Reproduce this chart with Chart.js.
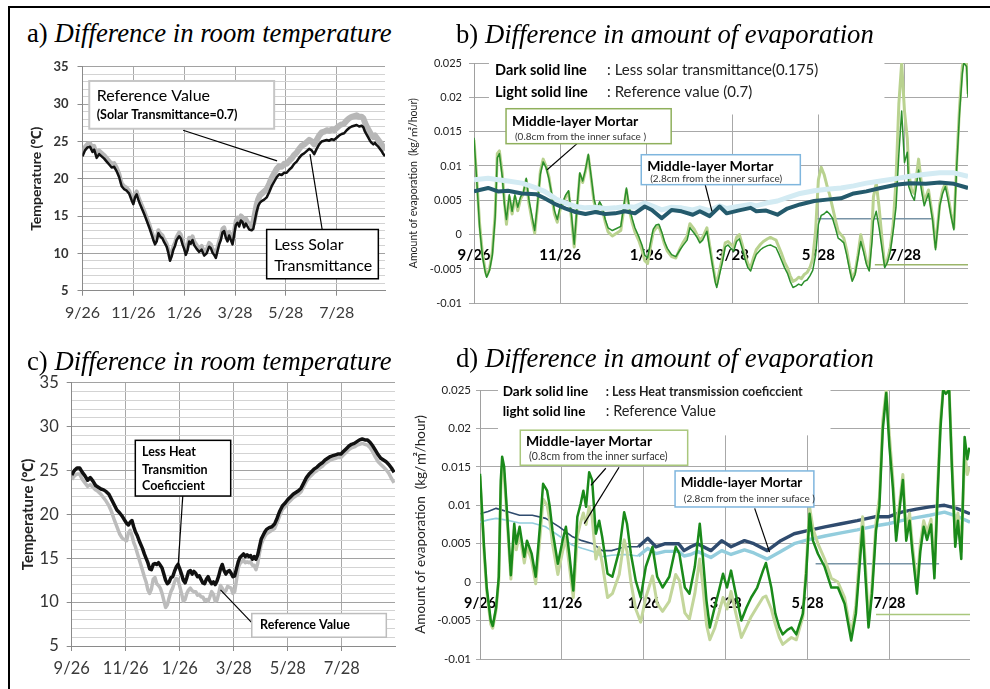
<!DOCTYPE html>
<html>
<head>
<meta charset="utf-8">
<script src="https://cdn.jsdelivr.net/npm/chart.js@4.4.1/dist/chart.umd.min.js"></script>
<style>
  html, body { margin: 0; padding: 0; background: #fff; }
  body { width: 990px; height: 689px; position: relative; overflow: hidden; }
  .frame { position: absolute; left: 8px; top: 6px; right: -4px; bottom: -4px; border-top: 2px solid #000; border-left: 2px solid #000; }
  canvas { position: absolute; }
  .ttl { position: absolute; font-family: 'Liberation Serif', 'Times New Roman', serif; font-size: 26.7px; line-height: 1; white-space: nowrap; color: #000; }
</style>
</head>
<body>
<div class="frame"></div>
<canvas id="ca"></canvas>
<canvas id="cb"></canvas>
<canvas id="cc"></canvas>
<canvas id="cd"></canvas>
<div class="ttl" style="left:27px;top:20px">a) <i>Difference in room temperature</i></div>
<div class="ttl" style="left:456px;top:21px">b) <i>Difference in amount of evaporation</i></div>
<div class="ttl" style="left:27px;top:348px">c) <i>Difference in room temperature</i></div>
<div class="ttl" style="left:456px;top:345px">d) <i>Difference in amount of evaporation</i></div>
<script>
// x axis: days since 9/26, labelled every 61 days
const tickDays = [0, 61, 122, 183, 244, 305];
const tickLabels = ['9/26', '11/26', '1/26', '3/28', '5/28', '7/28'];

// a) room temperature, solar transmittance case
const daysA = [0,3,6,9,12,14,17,20,23,26, 29,32,35,38,41,44,47,50,53,56,
  59,61,63,65,67,69,72,75,78,81, 83,85,87,89,91,93,96,98,101,103,
  105,107,109,111,113,116,118,120,122,124, 126,128,130,132,134,137,140,143,146,149,
  152,154,156,158,160,162,164,166,168,170, 172,174,176,178,180,182,184,186,188,190,
  192,194,196,198,200,203,205,207,209,211, 213,215,218,221,224,227,230,233,236,239,
  242,245,248,251,254,257,260,263,266,269, 272,275,278,281,284,287,290,293,296,299,
  302,305,308,311,314,317,320,323,326,329, 332,335,337,339,341,343,345,347,349,351,
  353,355,357,359,361,363];
const lessSolarA = [23.0,23.8,24.2,24.3,23.6,23.9,22.8,23.3,23.0,22.7, 22.3,21.9,21.5,21.6,21.0,20.2,19.0,18.6,18.4,18.0,
  17.1,16.6,17.5,17.9,17.2,16.6,15.8,15.0,14.1,13.2, 12.5,11.8,11.2,11.6,12.7,12.3,12.0,11.5,10.9,10.1,
  9.0,9.6,10.5,11.0,11.8,12.3,12.0,11.2,10.6,9.8, 10.4,11.6,11.3,11.8,11.1,10.6,10.2,10.5,9.7,10.0,
  10.9,10.7,10.1,9.8,9.4,10.3,11.2,11.8,12.8,13.0, 12.1,11.6,12.4,11.8,11.2,12.5,13.8,14.1,13.6,14.4,
  14.2,13.5,14.0,13.6,13.2,13.1,13.3,14.5,15.6,16.4, 16.8,17.0,17.2,17.5,18.2,19.0,19.6,20.2,20.6,20.5,
  20.8,20.8,21.2,21.5,22.0,22.3,22.8,23.2,23.4,23.7, 24.0,23.8,23.3,24.0,24.6,25.0,25.1,25.2,25.1,25.3,
  25.2,25.5,25.8,26.0,26.1,26.5,26.8,27.0,27.1,27.2, 27.0,27.1,26.9,26.3,25.9,25.5,25.1,24.8,24.6,24.8,
  24.5,24.3,24.0,23.7,23.3,23.0];
const refA = [23.5,24.3,24.7,24.8,24.1,24.4,23.3,23.8,23.5,23.2, 22.8,22.4,22.0,22.1,21.5,20.7,19.4,19.0,18.8,18.4,
  17.5,17.0,17.9,18.3,17.6,17.0,16.2,15.4,14.5,13.6, 12.9,12.2,11.6,12.0,13.1,12.7,12.4,11.9,11.3,10.5,
  9.4,10.0,10.9,11.4,12.2,12.8,12.5,11.7,11.1,10.3, 10.9,12.1,11.8,12.3,11.6,11.1,10.7,11.0,10.2,10.5,
  11.4,11.2,10.6,10.3,9.9,10.8,11.7,12.3,13.3,13.5, 12.6,12.1,12.9,12.3,11.8,13.1,14.4,14.8,14.3,15.1,
  14.9,14.2,14.7,14.3,13.9,13.8,14.1,15.3,16.5,17.3, 17.8,18.0,18.3,18.6,19.3,20.1,20.7,21.3,21.7,21.6,
  22.0,22.0,22.4,22.7,23.2,23.5,24.0,24.4,24.6,24.9, 25.2,25.0,24.6,25.2,25.8,26.2,26.3,26.5,26.4,26.6,
  26.5,26.8,27.1,27.3,27.4,27.8,28.1,28.3,28.4,28.5, 28.3,28.3,28.1,27.5,27.0,26.6,26.2,25.8,25.6,25.8,
  25.5,25.2,24.9,24.6,24.1,23.8];

// c) room temperature, heat transmission case
const daysC = [0,3,6,9,12,15,18,21,24,27, 30,33,36,39,42,45,48,51,54,57,
  60,62,64,66,68,70,72,74,77,80, 82,84,86,88,90,92,94,96,98,100,
  102,104,106,108,110,112,114,116,118,120, 122,124,126,128,130,132,134,136,138,140,
  142,144,146,148,150,152,154,156,158,160, 162,164,166,168,170,172,174,176,178,180,
  182,184,186,188,190,192,194,196,198,200, 202,204,206,208,210,212,214,216,218,220,
  223,226,229,232,235,238,241,244,247,250, 253,256,259,262,265,268,271,274,277,280,
  283,286,289,292,295,298,301,304,307,310, 313,316,319,322,325,328,331,334,337,340,
  343,346,349,352,355,358,361,364];
const lessHeatC = [24.5,25.0,25.3,25.3,24.8,24.4,23.9,24.2,23.8,23.3, 23.1,22.9,22.8,22.6,22.3,21.7,21.1,20.5,20.2,19.8,
  19.3,19.0,18.8,19.1,19.3,18.6,18.0,17.6,16.8,16.1, 15.5,15.0,14.5,13.8,13.7,14.3,14.4,14.3,14.5,14.2,
  13.9,13.2,12.5,12.1,12.3,12.8,12.9,13.5,14.0,14.3, 13.8,13.2,12.5,12.2,12.8,13.5,13.6,13.2,13.5,13.3,
  12.9,13.0,12.6,12.2,12.1,12.6,12.9,12.4,12.1,12.3, 12.0,12.4,13.0,13.8,14.3,13.6,13.2,13.5,13.6,13.3,
  12.9,13.0,13.8,14.6,15.1,15.3,15.5,15.2,15.4,15.2, 15.3,14.9,15.2,14.9,15.4,16.3,17.2,17.6,18.0,18.3,
  18.5,18.6,18.9,19.6,20.4,21.0,21.3,21.7,22.0,22.3, 22.5,22.7,23.0,23.6,24.2,24.6,24.9,25.2,25.4,25.7,
  25.9,26.2,26.4,26.6,26.7,26.8,26.9,26.9,27.2,27.5, 27.8,28.0,28.1,28.3,28.5,28.6,28.5,28.5,28.2,27.8,
  27.3,26.8,26.4,26.2,26.0,25.7,25.3,24.8];
const refC = [24.0,24.4,24.6,24.6,24.0,23.6,23.2,23.4,23.1,22.8, 22.6,22.3,21.9,21.5,21.0,20.3,19.4,18.6,17.8,17.3,
  17.1,17.0,17.9,18.2,17.6,16.8,16.3,15.6,14.6,13.6, 12.9,12.3,11.4,11.0,11.5,12.6,12.8,12.1,11.9,11.6,
  11.0,10.2,9.4,9.7,10.5,11.2,11.6,12.3,12.7,12.6, 11.8,11.0,10.1,10.3,11.0,11.4,11.6,11.3,11.2,11.2,
  10.8,10.9,10.6,10.6,10.2,10.3,10.1,10.6,11.2,10.9, 10.1,10.2,11.0,11.9,11.6,11.1,11.3,11.8,11.7,11.6,
  11.0,11.2,12.5,13.9,14.4,14.6,14.8,14.5,14.6,14.5, 14.6,14.2,14.2,13.7,14.4,15.6,16.6,17.1,17.5,17.8,
  18.0,18.2,18.4,19.1,19.9,20.6,20.9,21.3,21.6,21.9, 22.1,22.3,22.6,23.2,23.8,24.2,24.5,24.8,25.0,25.3,
  25.5,25.8,26.0,26.2,26.3,26.4,26.5,26.5,26.8,27.1, 27.4,27.6,27.7,27.9,28.0,28.1,28.0,27.9,27.6,27.1,
  26.5,26.0,25.7,25.4,25.1,24.7,24.1,23.6];

// b) evaporation, solar transmittance case: mortar 0.8cm (green)
const daysBG = [0,2,4,6,8,9,11,13,15,16.5, 18,20,21.5,23,25,27,29,31,33,35,
  37,39,41,43,45,47,49,51,53,55, 57,59,61,63,65,67,69,71,73,75,
  77,79,81,83,85,87,89,91,93,95, 98,101,104,106,108,110,112,114,117,119,
  121,123,125,127,129,131,133,135,137,140, 143,146,148,151,153,156,158,160,162,165,
  167,169,171,172,174,176,178,180,182,184, 186,188,190,192,194,196,198,200,203,205,
  208,210,212,214,216,218,220,222,224,226, 228,230,232,234,236,238,240,242,244,246,
  248,250,252,254,256,258,260,262,264,266, 268,270,272,274,276,278,280,282,283,285,
  287,289,291,293,295,297,299,301,303,305, 307,308,310,312,315,317,319,322,325,327,
  330,332,334,336,338,340,342,344,346,347, 349,350];
const lessGreenB = [0.0141,0.0077,0.0010,-0.0032,-0.0055,-0.0062,-0.0052,-0.0030,0.0025,0.0112,
  0.0118,0.0085,0.0045,0.0022,0.0058,0.0034,0.0058,0.0040,0.0055,0.0062,
  0.0082,0.0050,0.0028,0.0006,0.0045,0.0088,0.0106,0.0098,0.0082,0.0060,
  0.0035,0.0022,0.0040,0.0048,0.0058,0.0064,0.0030,-0.0014,0.0040,0.0090,
  0.0078,0.0095,0.0117,0.0085,0.0052,0.0036,0.0048,0.0040,0.0022,0.0010,
  0.0006,0.0009,0.0012,0.0040,0.0068,0.0040,0.0024,0.0010,-0.0004,-0.0015,
  -0.0030,-0.0034,-0.0012,0.0008,0.0014,0.0015,0.0004,-0.0010,-0.0020,-0.0029,
  -0.0032,-0.0022,-0.0016,-0.0008,0.0010,0.0002,-0.0004,-0.0012,-0.0008,0.0005,
  -0.0020,-0.0045,-0.0070,-0.0077,-0.0058,-0.0040,-0.0018,-0.0015,-0.0020,-0.0024,
  -0.0010,-0.0006,-0.0020,-0.0036,-0.0048,-0.0053,-0.0040,-0.0029,-0.0022,-0.0019,
  -0.0016,-0.0015,-0.0017,-0.0019,-0.0028,-0.0038,-0.0048,-0.0056,-0.0068,-0.0077,
  -0.0075,-0.0072,-0.0074,-0.0068,-0.0066,-0.0060,-0.0052,-0.0030,0.0015,0.0028,
  0.0030,0.0034,0.0030,0.0024,0.0010,-0.0005,-0.0008,-0.0012,-0.0029,-0.0050,
  -0.0068,-0.0058,-0.0035,-0.0010,-0.0025,-0.0043,-0.0053,-0.0010,0.0020,0.0034,
  0.0010,-0.0019,-0.0048,-0.0040,-0.0024,0.0005,0.0040,0.0117,0.0180,0.0105,
  0.0120,0.0070,0.0058,0.0050,0.0094,0.0065,0.0042,0.0060,0.0020,-0.0022,
  0.0042,0.0060,0.0070,0.0050,0.0027,0.0007,0.0099,0.0177,0.0235,0.0250,
  0.0245,0.0200];
const refGreenB = [0.0138,0.0080,0.0015,-0.0028,-0.0052,-0.0060,-0.0050,-0.0025,0.0030,0.0118,
  0.0122,0.0090,0.0050,0.0015,0.0055,0.0030,0.0055,0.0035,0.0052,0.0060,
  0.0080,0.0045,0.0022,0.0002,0.0042,0.0092,0.0110,0.0100,0.0085,0.0058,
  0.0030,0.0018,0.0036,0.0045,0.0055,0.0062,0.0025,-0.0018,0.0038,0.0088,
  0.0076,0.0093,0.0115,0.0082,0.0048,0.0032,0.0045,0.0036,0.0018,0.0004,
  -0.0002,0.0002,0.0006,0.0036,0.0065,0.0036,0.0018,0.0004,-0.0010,-0.0022,
  -0.0038,-0.0042,-0.0018,0.0004,0.0010,0.0012,0.0000,-0.0014,-0.0024,-0.0032,
  -0.0034,-0.0020,-0.0012,-0.0002,0.0016,0.0008,0.0000,-0.0008,-0.0004,0.0010,
  -0.0016,-0.0042,-0.0066,-0.0072,-0.0052,-0.0034,-0.0012,-0.0010,-0.0014,-0.0018,
  -0.0004,0.0000,-0.0014,-0.0030,-0.0042,-0.0048,-0.0034,-0.0022,-0.0014,-0.0010,
  -0.0006,-0.0004,-0.0006,-0.0008,-0.0018,-0.0028,-0.0040,-0.0048,-0.0060,-0.0068,
  -0.0066,-0.0062,-0.0064,-0.0058,-0.0055,-0.0048,-0.0035,0.0005,0.0080,0.0098,
  0.0088,0.0072,0.0058,0.0040,0.0022,0.0005,0.0000,-0.0005,-0.0022,-0.0045,
  -0.0065,-0.0055,-0.0030,0.0000,-0.0018,-0.0038,-0.0050,0.0010,0.0055,0.0075,
  0.0040,-0.0005,-0.0045,-0.0036,-0.0018,0.0015,0.0080,0.0190,0.0250,0.0180,
  0.0140,0.0090,0.0065,0.0060,0.0110,0.0075,0.0048,0.0065,0.0025,-0.0018,
  0.0045,0.0065,0.0075,0.0055,0.0030,0.0010,0.0105,0.0185,0.0245,0.0255,
  0.0250,0.0205];
// b) mortar 2.8cm (blue)
const daysBB = [0,10,17,24,34,44,50,58,65,72, 79,86,93,100,107,114,121,126,133,140,
  147,155,160,167,174,179,187,196,200,207, 215,222,231,241,250,260,269,278,288,300,
  309,320,330,340,350];
const lessBlueB = [0.0063,0.0068,0.0063,0.0064,0.0060,0.0059,0.0053,0.0044,0.0038,0.0033,
  0.0030,0.0033,0.0030,0.0031,0.0034,0.0031,0.0041,0.0036,0.0024,0.0036,
  0.0034,0.0029,0.0034,0.0027,0.0041,0.0031,0.0035,0.0039,0.0034,0.0035,
  0.0029,0.0038,0.0044,0.0049,0.0051,0.0053,0.0060,0.0063,0.0068,0.0073,
  0.0075,0.0074,0.0076,0.0074,0.0068];
const refBlueB = [0.0080,0.0082,0.0080,0.0078,0.0075,0.0068,0.0063,0.0052,0.0046,0.0041,
  0.0039,0.0040,0.0038,0.0039,0.0041,0.0040,0.0046,0.0042,0.0036,0.0040,
  0.0039,0.0036,0.0039,0.0035,0.0042,0.0038,0.0041,0.0044,0.0042,0.0046,
  0.0049,0.0054,0.0060,0.0064,0.0066,0.0068,0.0071,0.0075,0.0078,0.0082,
  0.0085,0.0088,0.0090,0.0090,0.0085];
// stray legend strokes left in panel b
const slateDaysB = [242, 326], slateValsB = [0.0023, 0.0023];
const oliveDaysB = [284, 350], oliveValsB = [-0.0044, -0.0044];

// d) evaporation, heat transmission case: mortar 0.8cm (green)
const daysDG = [0,3,5,8,9.5,12,14,15.5,16.5,18, 20.5,23,25.5,27,29.5,33,35,38.5,41.5,45,
  47,50,52,54,58,61.5,64,66.5,69.5,72.5, 75,77,79,81.3,83.5,86.3,88.8,91,95,98.6,
  103.7,107.4,109.5,112.4,116,119.7,123.5,128.5,132,136, 141,145.8,148.5,152.6,156,160,163.7,166,168.7,171.2,
  174.8,178,181,184,187,190.5,194.7,198.5,202,206.5, 210.8,213,217,220,223,225.5,229,232,235.6,240.5,
  243,245.5,248,251.7,256.7,261.7,266.6,271.6,276.5,280, 282.7,285,287,289.4,292,295,297.5,300,302.6,305,
  307.5,310,312.4,315,317.5,320,322,325.5,328,330.5, 333,336,338.5,341,343,345,347,349.5,351.5,354,
  356,358.5,361,363,364.5];
const lessGreenD = [0.0141,0.0046,-0.0007,-0.0050,-0.0057,-0.0033,0.0007,0.0133,0.0163,0.0150,
  0.0080,0.0009,0.0076,0.0050,0.0072,0.0033,0.0054,0.0037,0.0007,0.0080,
  0.0128,0.0119,0.0098,0.0067,0.0024,0.0054,0.0072,0.0037,-0.0011,0.0085,
  0.0102,0.0119,0.0098,0.0143,0.0133,0.0063,0.0080,0.0059,0.0011,0.0007,
  0.0041,0.0091,0.0076,0.0037,0.0002,-0.0020,0.0020,0.0046,0.0007,-0.0007,
  0.0007,0.0046,0.0037,-0.0007,-0.0015,0.0020,0.0076,0.0033,-0.0024,-0.0059,
  -0.0033,-0.0011,0.0011,-0.0007,0.0015,-0.0015,-0.0050,-0.0033,-0.0020,-0.0007,
  0.0015,0.0025,-0.0007,-0.0041,-0.0059,-0.0068,-0.0062,-0.0059,-0.0068,-0.0041,
  0.0011,0.0089,0.0054,0.0037,0.0020,-0.0007,-0.0007,-0.0028,-0.0076,-0.0041,
  0.0020,0.0072,0.0011,-0.0059,-0.0015,0.0067,0.0098,0.0198,0.0246,0.0176,
  0.0124,0.0054,0.0093,0.0133,0.0054,0.0080,0.0041,-0.0015,0.0040,0.0072,
  0.0055,0.0075,0.0005,0.0120,0.0200,0.0250,0.0245,0.0250,0.0150,0.0046,
  0.0080,0.0030,0.0189,0.0160,0.0175];
const refGreenD = [0.0138,0.0040,-0.0012,-0.0055,-0.0060,-0.0036,0.0003,0.0120,0.0150,0.0140,
  0.0072,0.0004,0.0068,0.0042,0.0064,0.0025,0.0046,0.0028,-0.0002,0.0065,
  0.0108,0.0100,0.0080,0.0050,0.0010,0.0040,0.0058,0.0022,-0.0020,0.0060,
  0.0078,0.0090,0.0075,0.0098,0.0085,0.0030,0.0045,0.0025,-0.0020,-0.0015,
  0.0010,0.0055,0.0040,0.0000,-0.0035,-0.0052,-0.0020,0.0008,-0.0028,-0.0038,
  -0.0025,0.0010,0.0002,-0.0040,-0.0048,-0.0015,0.0030,-0.0005,-0.0055,-0.0075,
  -0.0060,-0.0040,-0.0020,-0.0035,-0.0012,-0.0040,-0.0072,-0.0058,-0.0045,-0.0032,
  -0.0020,-0.0018,-0.0035,-0.0055,-0.0072,-0.0081,-0.0076,-0.0072,-0.0075,-0.0045,
  0.0020,0.0098,0.0070,0.0050,0.0030,0.0005,0.0000,-0.0020,-0.0068,-0.0030,
  0.0035,0.0085,0.0025,-0.0050,-0.0005,0.0078,0.0110,0.0210,0.0250,0.0190,
  0.0135,0.0065,0.0100,0.0140,0.0065,0.0090,0.0050,-0.0005,0.0050,0.0080,
  0.0065,0.0082,0.0015,0.0130,0.0210,0.0250,0.0250,0.0250,0.0160,0.0058,
  0.0090,0.0040,0.0170,0.0140,0.0150];
// d) mortar 2.8cm (blue)
const daysDB = [0,6,12,22,29.5,39,49,59,69,76, 84,91,98,108,118,125,131,138,148,152,
  157,162,172,180,187,197,204,214,224,234, 244,257,269,281,294,304,314,325,335,346,
  355,365];
const lessBlueD = [0.0089,0.0092,0.0096,0.0091,0.0087,0.0087,0.0083,0.0072,0.0059,0.0054,
  0.0050,0.0041,0.0041,0.0046,0.0046,0.0057,0.0046,0.0050,0.0050,0.0041,
  0.0046,0.0050,0.0041,0.0054,0.0046,0.0054,0.0050,0.0041,0.0054,0.0063,
  0.0067,0.0072,0.0076,0.0080,0.0085,0.0085,0.0091,0.0095,0.0098,0.0100,
  0.0096,0.0089];
const refBlueD = [0.0078,0.0081,0.0083,0.0080,0.0077,0.0077,0.0072,0.0060,0.0048,0.0044,
  0.0040,0.0033,0.0035,0.0036,0.0034,0.0044,0.0037,0.0040,0.0040,0.0034,
  0.0036,0.0040,0.0032,0.0041,0.0036,0.0042,0.0038,0.0030,0.0040,0.0050,
  0.0055,0.0060,0.0064,0.0068,0.0073,0.0076,0.0080,0.0084,0.0087,0.0091,
  0.0086,0.0078];
const slateDaysD = [250, 342], slateValsD = [0.0024, 0.0024];
const oliveDaysD = [295, 365], oliveValsD = [-0.0042, -0.0042];

const FONT = "Lato, 'Noto Sans', 'Noto Sans CJK JP', sans-serif";

function line(days, vals, color, width, extra) {
  return Object.assign({
    data: days.map((d, i) => ({x: d, y: vals[i]})),
    borderColor: color, borderWidth: width, pointRadius: 0, tension: 0, fill: false,
    borderJoinStyle: 'round'
  }, extra || {});
}

// masks, leader lines, boxes and texts, all given in data units
function notes(spec) {
  return {
    id: 'notes',
    beforeDatasetsDraw(chart) {
      const {ctx, scales: {x, y}} = chart;
      ctx.save();
      ctx.fillStyle = '#fff';
      (spec.masks || []).forEach(m => {
        const l = x.getPixelForValue(m.x0), r = x.getPixelForValue(m.x1);
        const t = y.getPixelForValue(m.y0), b = y.getPixelForValue(m.y1);
        ctx.fillRect(l, t, r - l, b - t);
      });
      ctx.restore();
    },
    afterDatasetsDraw(chart) {
      const {ctx, scales: {x, y}} = chart;
      ctx.save();
      ctx.strokeStyle = '#000';
      ctx.lineWidth = 1.2;
      (spec.lines || []).forEach(l => {
        ctx.beginPath();
        ctx.moveTo(x.getPixelForValue(l.x0), y.getPixelForValue(l.y0));
        ctx.lineTo(x.getPixelForValue(l.x1), y.getPixelForValue(l.y1));
        ctx.stroke();
      });
      (spec.boxes || []).forEach(b => {
        const l = x.getPixelForValue(b.x0), r = x.getPixelForValue(b.x1);
        const t = y.getPixelForValue(b.y0), bt = y.getPixelForValue(b.y1);
        ctx.fillStyle = '#fff';
        ctx.fillRect(l, t, r - l, bt - t);
        ctx.strokeStyle = b.stroke;
        ctx.lineWidth = b.lw;
        ctx.strokeRect(l, t, r - l, bt - t);
      });
      ctx.textBaseline = 'middle';
      ctx.textAlign = 'left';
      (spec.texts || []).forEach(t => {
        ctx.font = t.f + ' ' + FONT;
        ctx.fillStyle = t.c || '#000';
        ctx.fillText(t.t, x.getPixelForValue(t.x), y.getPixelForValue(t.y));
      });
      ctx.restore();
    }
  };
}

function place(id, box) {
  const cv = document.getElementById(id);
  cv.width = box.w; cv.height = box.h;
  cv.style.left = box.x + 'px'; cv.style.top = box.y + 'px';
  return cv;
}

function xTicks(s) { s.ticks = tickDays.map(v => ({value: v})); }

function tempChart(id, box, area, datasets, st, spec) {
  const cv = place(id, box);
  return new Chart(cv, {
    type: 'line',
    data: {datasets},
    plugins: [notes(spec)],
    options: {
      responsive: false, animation: false, events: [],
      layout: {padding: {left: 0, top: area.top - box.y, right: box.x + box.w - area.right, bottom: 0}},
      plugins: {legend: {display: false}, tooltip: {enabled: false}},
      scales: {
        x: {
          type: 'linear', min: 0, max: st.xMax,
          afterBuildTicks: xTicks,
          afterFit: s => { s.height = box.y + box.h - area.bottom; },
          ticks: {autoSkip: false, maxRotation: 0, callback: (v, i) => tickLabels[i],
                  font: {family: FONT, size: st.xFont}, color: '#3a3a3a', padding: st.xPad},
          grid: {color: '#a8a8a8', tickColor: '#8a8a8a', tickLength: 5},
          border: {color: '#8a8a8a'}
        },
        y: {
          min: 5, max: 35,
          afterFit: s => { s.width = area.left - box.x; },
          ticks: {stepSize: 1, autoSkip: false, callback: v => (v % 5 === 0 ? v : ''),
                  font: {family: FONT, size: st.yFont, weight: st.yWeight}, color: '#333', padding: st.yPad},
          grid: {
            color: c => (c.tick && c.tick.value % 5 === 0 ? '#a2a2a2' : '#d3d3d3'),
            tickColor: c => (c.tick && c.tick.value % 5 === 0 ? '#8a8a8a' : 'rgba(0,0,0,0)'),
            tickLength: 5
          },
          border: {color: '#8a8a8a'},
          title: {display: true, text: 'Temperature (℃)', color: '#222',
                  font: {family: FONT, size: st.tFont, weight: 'bold'}, padding: {top: st.tPad, bottom: 0}}
        }
      }
    }
  });
}

function evapChart(id, box, area, datasets, st, spec) {
  const cv = place(id, box);
  return new Chart(cv, {
    type: 'line',
    data: {datasets},
    plugins: [notes(spec)],
    options: {
      responsive: false, animation: false, events: [],
      layout: {padding: {left: 0, top: area.top - box.y, right: box.x + box.w - area.right, bottom: box.y + box.h - area.bottom}},
      plugins: {legend: {display: false}, tooltip: {enabled: false}},
      scales: {
        x: {
          type: 'linear', min: 0, max: st.xMax, position: {y: 0},
          afterBuildTicks: xTicks,
          ticks: {autoSkip: false, maxRotation: 0, callback: (v, i) => tickLabels[i],
                  font: {family: FONT, size: st.xFont, weight: 'bold'}, color: '#000', padding: st.xPad},
          grid: {color: '#a8a8a8', drawTicks: false},
          border: {display: false}
        },
        y: {
          min: -0.01, max: 0.025,
          afterFit: s => { s.width = area.left - box.x; },
          ticks: {stepSize: 0.005, autoSkip: false, callback: v => String(+v.toFixed(3)),
                  font: {family: FONT, size: st.yFont}, color: '#222', padding: st.yPad},
          grid: {color: '#a8a8a8', tickColor: '#a8a8a8', tickLength: st.yTick},
          border: {color: '#a0a0a0'},
          title: {display: true, text: 'Amount of evaporation  (kg/㎡/hour)', color: '#222',
                  font: {family: FONT, size: st.tFont}, padding: {top: st.tPad, bottom: 0}}
        }
      }
    }
  });
}

// a)
tempChart('ca', {x: 12, y: 50, w: 380, h: 290}, {left: 82.5, top: 65, right: 385, bottom: 290.7}, [
  line(daysA, lessSolarA, '#111111', 2.5),
  line(daysA, refA, '#b7b7b7', 5, {segment: {borderWidth: c => (c.p0.parsed.x < 200 ? 4 : 6)}})
], {xMax: 363, xFont: 16, xPad: 8, yFont: 13, yWeight: 'bold', yPad: 9, tFont: 14, tPad: 16}, {
  lines: [{x0: 120.7, y0: 26.5, x1: 233.5, y1: 22.4}, {x0: 287.6, y0: 13.2, x1: 273, y1: 23.3}],
  boxes: [{x0: 8.1, x1: 230, y0: 33.1, y1: 26.7, stroke: '#c6c6c6', lw: 2},
          {x0: 221, x1: 355, y0: 13.2, y1: 6.6, stroke: '#000', lw: 1.5}],
  texts: [{x: 17, y: 31.1, t: 'Reference Value', f: '16px'},
          {x: 17, y: 28.6, t: '(Solar Transmittance=0.7)', f: 'bold 12.5px'},
          {x: 230, y: 11.1, t: 'Less Solar', f: '16px'},
          {x: 230, y: 8.3, t: 'Transmittance', f: '16px'}]
});

// c)
tempChart('cc', {x: 12, y: 365, w: 388, h: 315}, {left: 71.7, top: 378.3, right: 395, bottom: 646}, [
  line(daysC, lessHeatC, '#111111', 3.5),
  line(daysC, refC, '#bcbcbc', 3.5)
], {xMax: 365, xFont: 16.5, xPad: 8, yFont: 16.5, yWeight: 'normal', yPad: 8, tFont: 15, tPad: 7}, {
  lines: [{x0: 125.4, y0: 22.1, x1: 120.2, y1: 14.2}, {x0: 203, y0: 7.7, x1: 168, y1: 11.4}],
  boxes: [{x0: 71.8, x1: 179.5, y0: 28.45, y1: 22.1, stroke: '#000', lw: 1.5},
          {x0: 203.3, x1: 355.2, y0: 8.7, y1: 6.0, stroke: '#bdbdbd', lw: 1.5}],
  texts: [{x: 79.4, y: 27.1, t: 'Less Heat', f: 'bold 12.5px'},
          {x: 79.4, y: 25.1, t: 'Transmition', f: 'bold 12.5px'},
          {x: 79.4, y: 23.3, t: 'Coeficcient', f: 'bold 12.5px'},
          {x: 212.6, y: 7.35, t: 'Reference Value', f: 'bold 12.5px'}]
});

// b)
evapChart('cb', {x: 400, y: 48, w: 585, h: 270}, {left: 474, top: 63, right: 968, bottom: 303.3}, [
  line(daysBB, lessBlueB, '#245a6c', 4),
  line(daysBB, refBlueB, '#d3ebf3', 5),
  line(daysBG, lessGreenB, '#2b8f2b', 1.5),
  line(daysBG, refGreenB, '#b9d28f', 3),
  line(slateDaysB, slateValsB, '#7893a6', 1.5),
  line(oliveDaysB, oliveValsB, '#9bb56a', 1.5)
], {xMax: 350, xFont: 15, xPad: 12, yFont: 11, yPad: 7, yTick: 5, tFont: 10.5, tPad: 7}, {
  masks: [{x0: 10.6, x1: 290.8, y0: 0.0265, y1: 0.0175}],
  lines: [{x0: 73, y0: 0.01325, x1: 51.8, y1: 0.00946}, {x0: 163.8, y0: 0.00728, x1: 168.6, y1: 0.0034}],
  boxes: [{x0: 22.7, x1: 139.7, y0: 0.01834, y1: 0.01325, stroke: '#8fb05c', lw: 1.5},
          {x0: 118.5, x1: 231.2, y0: 0.01164, y1: 0.00728, stroke: '#7fb6de', lw: 1.5}],
  texts: [{x: 14.9, y: 0.0240, t: 'Dark solid line', f: 'bold 14.5px'},
          {x: 94.3, y: 0.0240, t: ': Less solar transmittance(0.175)', f: '15px', c: '#222'},
          {x: 14.9, y: 0.0208, t: 'Light solid line', f: 'bold 14.5px'},
          {x: 94.3, y: 0.0208, t: ': Reference value (0.7)', f: '15px', c: '#222'},
          {x: 27, y: 0.01645, t: 'Middle-layer Mortar', f: 'bold 14px'},
          {x: 29, y: 0.01426, t: '(0.8cm from the inner suface )', f: '10px', c: '#333'},
          {x: 122.7, y: 0.0099, t: 'Middle-layer Mortar', f: 'bold 14px'},
          {x: 124.8, y: 0.00815, t: '(2.8cm from the inner surface)', f: '10px', c: '#333'}]
});

// d)
evapChart('cd', {x: 400, y: 375, w: 588, h: 310}, {left: 480, top: 390, right: 970, bottom: 659}, [
  line(daysDG, lessGreenD, '#1a8a1a', 2.5),
  line(daysDG, refGreenD, '#c3d69b', 3),
  line(daysDB, lessBlueD, '#2f4b6e', 3, {segment: {borderWidth: c => (c.p0.parsed.x < 110 ? 1.6 : 3.4)}}),
  line(daysDB, refBlueD, '#93cddd', 3, {segment: {borderWidth: c => (c.p0.parsed.x < 110 ? 1.6 : 3.4)}}),
  line(slateDaysD, slateValsD, '#7893a6', 1.5),
  line(oliveDaysD, oliveValsD, '#a9c77c', 1.5)
], {xMax: 365, xFont: 14.5, xPad: 12, yFont: 11.5, yPad: 5, yTick: 4, tFont: 13.5, tPad: 13}, {
  masks: [{x0: 13.4, x1: 261.1, y0: 0.0263, y1: 0.0191}],
  lines: [{x0: 93.7, y0: 0.01482, x1: 82.6, y1: 0.0126}, {x0: 103.6, y0: 0.01495, x1: 77.6, y1: 0.00761},
          {x0: 204.6, y0: 0.0096, x1: 215.7, y1: 0.0039}],
  boxes: [{x0: 30, x1: 154.7, y0: 0.01977, y1: 0.01521, stroke: '#a9c77c', lw: 1.5},
          {x0: 145.3, x1: 248.7, y0: 0.01447, y1: 0.00978, stroke: '#7fb6de', lw: 1.5}],
  texts: [{x: 16.9, y: 0.02477, t: 'Dark solid line', f: 'bold 13.5px'},
          {x: 93.7, y: 0.02477, t: ': Less Heat transmission coeficcient', f: 'bold 12.5px', c: '#222'},
          {x: 16.9, y: 0.02216, t: 'light solid line', f: 'bold 13.5px'},
          {x: 93.7, y: 0.02216, t: ': Reference Value', f: '14.5px', c: '#222'},
          {x: 34.2, y: 0.01834, t: 'Middle-layer Mortar', f: 'bold 14px'},
          {x: 36.5, y: 0.01638, t: '(0.8cm from the inner surface)', f: '10.5px', c: '#333'},
          {x: 149.5, y: 0.013, t: 'Middle-layer Mortar', f: 'bold 13.5px'},
          {x: 151.8, y: 0.01091, t: '(2.8cm from the inner suface )', f: '10px', c: '#333'}]
});
</script>
</body>
</html>
